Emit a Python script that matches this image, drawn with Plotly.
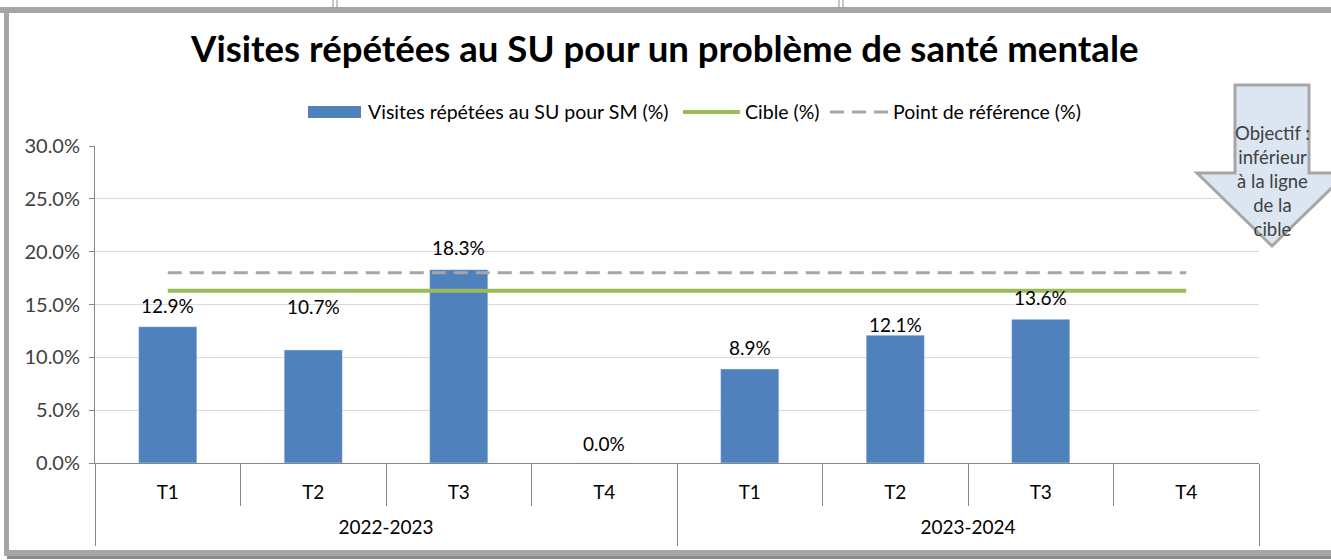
import plotly.graph_objects as go

# ---------------- data ----------------
years = ["2022-2023"] * 4 + ["2023-2024"] * 4
quarters = ["T1", "T2", "T3", "T4", "T1", "T2", "T3", "T4"]
visits = [12.9, 10.7, 18.3, 0.0, 8.9, 12.1, 13.6, None]
target = [16.3] * 8
reference = [18.0] * 8
y_ticks = [0, 5, 10, 15, 20, 25, 30]
y_tick_labels = ["0.0%", "5.0%", "10.0%", "15.0%", "20.0%", "25.0%", "30.0%"]

title_text = "Visites répétées au SU pour un problème de santé mentale"
legend_names = ["Visites répétées au SU pour SM (%)", "Cible (%)", "Point de référence (%)"]
arrow_text = "Objectif :<br>inférieur<br>à la ligne<br>de la<br>cible"

# ---------------- styles ----------------
W, H = 1331, 560
L, R, T, B = 95, 72, 146, 15          # plot area margins (px)
AXIS_Y = 463                          # pixel row of the value axis zero
label_shift = [21, 43, 22, 20, 21, 11, 22]  # data-label offsets above bar tops (px)
FONT = "Lato, 'Open Sans', sans-serif"
BAR_C = "#4f81bd"
GREEN = "#9bbb59"
GREY = "#a6a6a6"
TXT = "#404040"
AX_C = "#868686"

pw, ph = W - L - R, H - T - B


def px(x):
    return (x - L) / pw


def py(y):
    return (H - B - y) / ph


cat_ids = [f"{y} {q}" for y, q in zip(years, quarters)]
uniq_years = list(dict.fromkeys(years))

fig = go.Figure()
fig.add_trace(go.Bar(x=cat_ids, y=visits, marker_color=BAR_C, width=0.4,
                     name=legend_names[0], showlegend=False, hoverinfo="skip"))
fig.add_trace(go.Scatter(x=cat_ids, y=target, mode="lines", line=dict(color=GREEN, width=4),
                         name=legend_names[1], showlegend=False, hoverinfo="skip"))
fig.add_trace(go.Scatter(x=cat_ids, y=reference, mode="lines",
                         line=dict(color=GREY, width=3, dash="14px,8px"),
                         name=legend_names[2], showlegend=False, hoverinfo="skip"))
# invisible trace that carries the year grouping axis
fig.add_trace(go.Scatter(x=years, y=[0] * len(years), xaxis="x2", yaxis="y", mode="markers",
                         marker=dict(opacity=0, size=1), showlegend=False, hoverinfo="skip"))

annotations = []
for i, v in enumerate(visits):
    if v is None:
        continue
    annotations.append(dict(x=cat_ids[i], y=v, xref="x", yref="y", text=f"{v:.1f}%",
                            showarrow=False, yshift=label_shift[i],
                            font=dict(family=FONT, size=19, color="#000000")))

# title
annotations.append(dict(x=px(664), y=py(48), xref="paper", yref="paper", text=f"<b>{title_text}</b>",
                        showarrow=False, xanchor="center", yanchor="middle",
                        font=dict(family=FONT, size=36.6, color="#000000")))

# custom legend
leg_y = py(112)
shapes = []
shapes.append(dict(type="rect", xref="paper", yref="paper", x0=px(308), x1=px(361),
                   y0=py(106), y1=py(118), fillcolor=BAR_C, line=dict(width=0)))
annotations.append(dict(x=px(366), y=leg_y, xref="paper", yref="paper", text=legend_names[0],
                        showarrow=False, xanchor="left", yanchor="middle",
                        font=dict(family=FONT, size=19.5, color="#000000")))
shapes.append(dict(type="line", xref="paper", yref="paper", x0=px(683), x1=px(740),
                   y0=leg_y, y1=leg_y, line=dict(color=GREEN, width=4)))
annotations.append(dict(x=px(743), y=leg_y, xref="paper", yref="paper", text=legend_names[1],
                        showarrow=False, xanchor="left", yanchor="middle",
                        font=dict(family=FONT, size=19.5, color="#000000")))
shapes.append(dict(type="line", xref="paper", yref="paper", x0=px(830), x1=px(888),
                   y0=leg_y, y1=leg_y, line=dict(color=GREY, width=3, dash="14px,8px")))
annotations.append(dict(x=px(891), y=leg_y, xref="paper", yref="paper", text=legend_names[2],
                        showarrow=False, xanchor="left", yanchor="middle",
                        font=dict(family=FONT, size=19.5, color="#000000")))

# arrow callout
pts = [(1235, 85), (1309, 85), (1309, 173), (1347, 173), (1272, 246), (1197, 173), (1235, 173)]
path = "M " + " L ".join(f"{px(a):.5f},{py(b):.5f}" for a, b in pts) + " Z"
shapes.append(dict(type="path", xref="paper", yref="paper", path=path,
                   fillcolor="#dce6f2", line=dict(color=GREY, width=3), layer="above"))
annotations.append(dict(x=px(1272), y=py(181), xref="paper", yref="paper", text=arrow_text,
                        showarrow=False, xanchor="center", yanchor="middle",
                        font=dict(family=FONT, size=18.5, color=TXT)))

# outer frame
frame_c = "#a5a5a5"
shapes.append(dict(type="rect", xref="paper", yref="paper", x0=px(-10), x1=px(W + 20),
                   y0=py(7), y1=py(13), fillcolor=frame_c, line=dict(width=0), layer="below"))
shapes.append(dict(type="rect", xref="paper", yref="paper", x0=px(4), x1=px(9),
                   y0=py(7), y1=py(556), fillcolor=frame_c, line=dict(width=0), layer="below"))
shapes.append(dict(type="rect", xref="paper", yref="paper", x0=px(4), x1=px(W + 20),
                   y0=py(550), y1=py(556), fillcolor=frame_c, line=dict(width=0), layer="below"))
shapes.append(dict(type="rect", xref="paper", yref="paper", x0=px(7), x1=px(W + 20),
                   y0=py(556), y1=py(559), fillcolor="#8c8c8c", line=dict(width=0), layer="below"))
for xx in (333, 337, 839, 843):
    shapes.append(dict(type="line", xref="paper", yref="paper", x0=px(xx), x1=px(xx),
                       y0=py(0), y1=py(7), line=dict(color="#8c8c8c", width=1)))

y_dom0 = (H - B - AXIS_Y) / ph

fig.update_layout(
    width=W, height=H,
    autosize=False,
    margin=dict(l=L, r=R, t=T, b=B, pad=0, autoexpand=False),
    paper_bgcolor="white", plot_bgcolor="white",
    showlegend=False,
    annotations=annotations,
    shapes=shapes,
    font=dict(family=FONT, size=19, color="#000000"),
    yaxis=dict(domain=[y_dom0, 1], range=[0, 30], tickvals=y_ticks, ticktext=y_tick_labels,
               automargin=False,
               showgrid=True, gridcolor="#d9d9d9", gridwidth=1,
               showline=True, linecolor=AX_C, linewidth=1,
               ticks="outside", ticklen=5, tickcolor=AX_C, ticklabelstandoff=5,
               tickfont=dict(family=FONT, size=20, color=TXT), zeroline=False),
    xaxis=dict(type="category", anchor="y", tickvals=cat_ids, ticktext=quarters,
               automargin=False,
               showline=True, linecolor=AX_C, linewidth=1,
               ticks="outside", tickson="boundaries", ticklen=42, tickcolor=AX_C,
               ticklabelstandoff=12,
               tickfont=dict(family=FONT, size=19, color="#000000"), showgrid=False,
               range=[-0.5, len(cat_ids) - 0.5]),
    xaxis2=dict(type="category", overlaying="x", anchor="free", position=y_dom0, side="bottom",
                automargin=False,
                categoryorder="array", categoryarray=uniq_years,
                range=[-0.5, len(uniq_years) - 0.5],
                showline=False, showgrid=False, zeroline=False,
                ticks="outside", tickson="boundaries", ticklen=82, tickcolor=AX_C,
                ticklabelstandoff=51,
                tickfont=dict(family=FONT, size=19, color="#000000")),
)

fig.write_html("out.html", config={"displayModeBar": False},
               post_script="document.body.style.margin='0';document.body.style.overflow='hidden';")
